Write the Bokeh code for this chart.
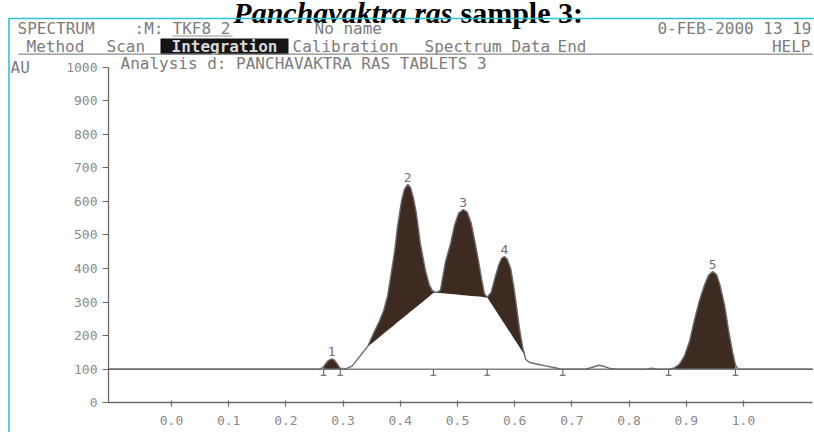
import numpy as np
from bokeh.plotting import figure
from bokeh.models import Label, BoxAnnotation, FixedTicker, Range1d
from bokeh.embed import file_html
from bokeh.resources import INLINE
from bokeh.core.properties import value

# ---------------- data ----------------
track_rf = [-0.110, 0.257, 0.264, 0.269, 0.274, 0.280, 0.285, 0.290, 0.295, 0.301,
            0.309, 0.316, 0.330, 0.343, 0.353, 0.364, 0.371, 0.378, 0.383, 0.390,
            0.395, 0.402, 0.407, 0.413, 0.418, 0.423, 0.428, 0.435, 0.444, 0.451,
            0.456, 0.462, 0.470, 0.479, 0.488, 0.495, 0.502, 0.510, 0.517, 0.524,
            0.531, 0.537, 0.542, 0.547, 0.552, 0.559, 0.566, 0.572, 0.577, 0.582,
            0.587, 0.593, 0.598, 0.603, 0.608, 0.614, 0.619, 0.626, 0.640, 0.654,
            0.668, 0.680, 0.689, 0.724, 0.736, 0.747, 0.757, 0.767, 0.778, 0.829,
            0.839, 0.850, 0.869, 0.879, 0.888, 0.897, 0.906, 0.914, 0.923, 0.932,
            0.939, 0.946, 0.953, 0.959, 0.967, 0.974, 0.981, 0.986, 0.991, 1.121]
track_au = [100, 100, 104, 115, 126, 131, 127, 115, 102, 100,
            104, 110, 140, 168, 206, 245, 275, 320, 374, 450,
            523, 600, 635, 651, 641, 610, 565, 475, 394, 350,
            334, 329, 334, 420, 475, 530, 565, 576, 568, 535,
            475, 420, 370, 325, 314, 330, 375, 410, 430, 436,
            428, 400, 350, 290, 225, 165, 130, 120, 115, 110,
            105, 101, 100, 100, 106, 112, 108, 102, 100, 100,
            103, 100, 100, 104, 115, 140, 185, 245, 305, 352,
            380, 391, 382, 350, 290, 215, 150, 112, 100, 100]

peak_ids = ["1", "2", "3", "4", "5"]
peak_rf = [0.280, 0.413, 0.510, 0.582, 0.946]
peak_au = [131, 651, 576, 436, 391]

# integration windows (start / end Rf and the integration baseline heights)
win_start_rf = [0.266, 0.295, 0.459, 0.552, 0.869]
win_end_rf = [0.295, 0.459, 0.552, 0.626, 0.986]
win_start_au = [100, 100, 329, 314, 100]
win_end_au = [100, 329, 314, 120, 100]

marker_rf = [0.266, 0.295, 0.458, 0.552, 0.684, 0.869, 0.986]
baseline_au = 100

x_ticks = [0.0, 0.1, 0.2, 0.3, 0.4, 0.5, 0.6, 0.7, 0.8, 0.9, 1.0]
x_tick_labels = ["0.0", "0.1", "0.2", "0.3", "0.4", "0.5", "0.6", "0.7", "0.8", "0.9", "1.0"]
y_ticks = [0, 100, 200, 300, 400, 500, 600, 700, 800, 900, 1000]
y_tick_labels = ["0", "100", "200", "300", "400", "500", "600", "700", "800", "900", "1000"]
x_axis_span = (-0.1101, 1.1206)
y_axis_span = (0, 1000)

title_italic = "Panchavaktra ras"
title_plain = "sample 3:"
header_row1 = [("SPECTRUM", 17), (":M:", 134), ("TKF8 2", 172), ("No name", 314)]
header_date = "0-FEB-2000 13 19"
header_row2 = [("Method", 26), ("Scan", 106), ("Calibration", 292),
               ("Spectrum", 424), ("Data", 511), ("End", 557)]
header_active = "Integration"
header_help = "HELP"
analysis_text = "Analysis d: PANCHAVAKTRA RAS TABLETS 3"
unit_text = "AU"

# ---------------- styling ----------------
MONO = "DejaVu Sans Mono"
GREY = "#7c7c7c"
FILL = "#3d2a20"
CYAN = "#2cc3d2"
AXIS = "#6a6a6a"

# the frame fills the whole canvas (page x 0..814, y 0..432)
p = figure(width=814, height=432,
           x_range=Range1d(-0.29895, 1.12413), y_range=Range1d(-88.5, 1198.7),
           min_border_left=0, min_border_right=0, min_border_top=0, min_border_bottom=0,
           output_backend="svg", toolbar_location=None)
p.outline_line_color = None
p.grid.visible = False
p.background_fill_color = "white"
p.border_fill_color = "white"

for ax in (p.xaxis[0], p.yaxis[0]):
    ax.axis_line_color = AXIS
    ax.axis_line_width = 1.3
    ax.major_tick_line_color = AXIS
    ax.major_tick_line_width = 1.2
    ax.minor_tick_line_color = None
    ax.major_label_text_font = MONO
    ax.major_label_text_font_size = "13px"
    ax.major_label_text_color = "#8a8a8a"

p.xaxis.fixed_location = y_axis_span[0]
p.xaxis.bounds = x_axis_span
p.xaxis.ticker = FixedTicker(ticks=x_ticks)
p.xaxis.major_label_overrides = dict(zip(x_ticks, x_tick_labels))
p.xaxis.major_tick_in = 2
p.xaxis.major_tick_out = 4
p.xaxis.major_label_standoff = 9

p.yaxis.fixed_location = x_axis_span[0]
p.yaxis.bounds = y_axis_span
p.yaxis.ticker = FixedTicker(ticks=y_ticks)
p.yaxis.major_label_overrides = dict(zip(y_ticks, y_tick_labels))
p.yaxis.major_tick_in = 0
p.yaxis.major_tick_out = 6
p.yaxis.major_label_standoff = 5

# integrated peak areas
x = np.array(track_rf, dtype=float)
y = np.array(track_au, dtype=float)
for s, e, bs, be in zip(win_start_rf, win_end_rf, win_start_au, win_end_au):
    inner = x[(x > s) & (x < e)]
    xs = np.concatenate([[s], inner, [e]])
    ys = np.interp(xs, x, y)
    base = np.interp(xs, [s, e], [bs, be])
    p.varea(x=xs, y1=base, y2=np.maximum(ys, base), fill_color=FILL, fill_alpha=1.0)

# baseline and trace
p.line([track_rf[0], track_rf[-1]], [baseline_au, baseline_au], line_color="#7d7d7d", line_width=1.5)
p.line(track_rf, track_au, line_color=AXIS, line_width=1.4)

# integration boundary markers
m = np.array(marker_rf)
p.segment(x0=m, y0=[baseline_au] * len(m), x1=m, y1=[baseline_au - 18] * len(m),
          line_color=AXIS, line_width=1.2)
p.segment(x0=m - 0.005, y0=[baseline_au - 18] * len(m), x1=m + 0.005, y1=[baseline_au - 18] * len(m),
          line_color=AXIS, line_width=1.2)

# peak numbers
p.text(x=peak_rf, y=peak_au, text=peak_ids, y_offset=-7, text_align="center",
       text_baseline="middle", text_font=value(MONO), text_font_size="13px", text_color="#707070")

# ---------------- header (page coordinates -> frame screen units) ----------------
PX0, PY0 = 0, 432   # page position of the frame's left / bottom edge


def label(text, px, py, align="left", size="16px", color=GREY, font=MONO, style="normal",
          baseline="middle"):
    p.add_layout(Label(x=px - PX0, y=PY0 - py, x_units="screen", y_units="screen", text=text,
                       text_align=align, text_baseline=baseline, text_font=font,
                       text_font_size=size, text_color=color, text_font_style=style))


def box(left, right, top, bottom, fill=None, line=None, lw=1.0):
    p.add_layout(BoxAnnotation(left=left - PX0, right=right - PX0, top=PY0 - top, bottom=PY0 - bottom,
                               left_units="screen", right_units="screen",
                               top_units="screen", bottom_units="screen",
                               fill_color=fill, fill_alpha=1.0 if fill else 0.0,
                               line_color=line, line_width=lw, line_alpha=1.0 if line else 0.0))


# title (cut at the top of the page, as in the scan)
label(title_italic, 452, 12, align="right", size="30px", color="black",
      font="Liberation Serif", style="bold italic", baseline="alphabetic")
label(title_plain, 460, 12, align="left", size="30px", color="black",
      font="Liberation Serif", style="bold", baseline="alphabetic")

# cyan frame of the screen dump
box(8.5, 840, 18, 460, fill=None, line=CYAN, lw=1.6)

for t, px in header_row1:
    label(t, px, 28)
label(header_date, 811, 28, align="right")
box(172, 232, 35, 36, fill="#909090")

box(160, 288, 38, 54, fill="#151515")
label(header_active, 224, 46, align="center", color="#d8d8d8", style="bold")
for t, px in header_row2:
    label(t, px, 46)
label(header_help, 810, 46, align="right")
box(18, 812, 53, 54.2, fill="#8a8a8a")

label(analysis_text, 120, 63)
label(unit_text, 10, 67)

open("out.html", "w").write(file_html(p, INLINE))
